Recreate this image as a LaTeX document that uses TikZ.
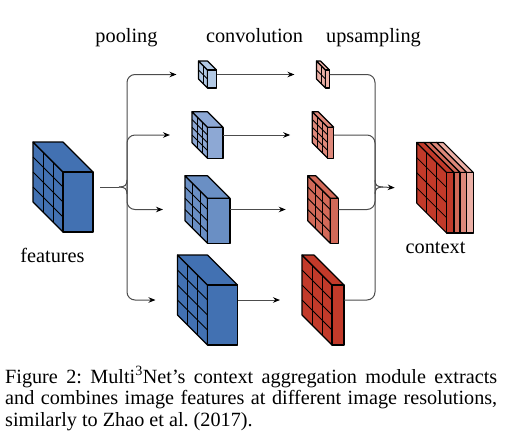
\documentclass[tikz,border=0pt]{standalone}
\usepackage{fontspec}
\setmainfont{Liberation Serif}
\usetikzlibrary{arrows.meta, positioning}
\definecolor{blueA}{RGB}{66, 113, 178}
\definecolor{blueB}{RGB}{106, 143, 196}
\definecolor{blueC}{RGB}{141, 168, 212}
\definecolor{blueD}{RGB}{178, 201, 228}
\definecolor{redA}{RGB}{194, 58, 42}
\definecolor{redB}{RGB}{210, 105, 88}
\definecolor{redC}{RGB}{222, 136, 122}
\definecolor{redD}{RGB}{236, 176, 166}
\newcommand{\capfont}{\fontsize{20.2}{21.7}\selectfont\frenchspacing}
\newcommand{\labfont}{\fontsize{20.3}{24}\selectfont}
% #1 name, #2 #3 front top-left corner, #4 width, #5 height, #6 depth, #7 colour, #8 columns, #9 rows
\newcommand{\gridcube}[9]{%
    \filldraw[cubeedge, fill=#7] (#2,#3) -- ++(0,#5) -- ++(-#6,-#6) -- ++(0,-#5) -- cycle;
    \filldraw[cubeedge, fill=#7] (#2,#3) -- ++(#4,0) -- ++(-#6,-#6) -- ++(-#4,0) -- cycle;
    \filldraw[cubeedge, fill=#7] (#2,#3) rectangle ++(#4,#5);
    \ifnum#8>1
        \foreach \k in {2,...,#8} {\draw[cellline] ({#2-(\k-1)*#6/#8},{#3-(\k-1)*#6/#8}) -- ++(0,#5);}
    \fi
    \ifnum#9>1
        \foreach \k in {2,...,#9} {\draw[cellline] ({#2},{#3+(\k-1)*#5/#9}) -- ++(-#6,-#6);}
    \fi
    \node[cubebox, minimum width={(#4+#6)*1pt}, minimum height={(#5+#6)*1pt}] (#1) at ({#2+(#4-#6)/2},{#3+(#5-#6)/2}) {};
}

\begin{document}
\begin{tikzpicture}[x=1pt, y=-1pt,
        cubeedge/.style={draw=black, line width=1.1pt, line join=round},
        cellline/.style={draw=black, line width=0.8pt},
        cubebox/.style={rectangle, inner sep=0, outer sep=0},
        conn/.style={draw=black!70, line width=1pt},
        arr/.style={conn, -{Stealth[length=7pt, width=5.5pt, black]}},
        lab/.style={anchor=base, inner sep=0, font=\labfont}
    ]
        \useasboundingbox (0,0) rectangle (508,437);

        % input features
        \gridcube{feat}{63}{172}{30}{60}{30}{blueA}{3}{4}

        % pooled maps
        \gridcube{pa}{207.5}{70}{9}{18}{9}{blueD}{2}{2}
        \gridcube{pb}{207.5}{127.25}{15.5}{31}{15.5}{blueC}{3}{4}
        \gridcube{pc}{207.5}{198.25}{22.5}{45}{22.5}{blueB}{3}{4}
        \gridcube{pd}{207.5}{285}{30}{60}{30}{blueA}{3}{4}

        % upsampled maps
        \gridcube{ua}{325.5}{70}{4}{18}{9}{redD}{2}{2}
        \gridcube{ub}{327.75}{127.25}{6}{31}{15.5}{redC}{3}{4}
        \gridcube{uc}{330.25}{198.25}{8}{45}{22.5}{redB}{3}{4}
        \gridcube{ud}{332}{285}{12}{60}{30}{redA}{3}{4}

        % context stack
        \gridcube{ctxd}{466.7}{172.5}{6.6}{60.5}{30}{redD}{1}{1}
        \gridcube{ctxc}{460}{172.5}{6.7}{60.5}{30}{redC}{1}{1}
        \gridcube{ctxb}{454}{172.5}{6}{60.5}{30}{redB}{1}{1}
        \gridcube{ctx}{446.7}{172.5}{7.3}{60.5}{30}{redA}{3}{4}

        \coordinate (ltip) at (119,187);
        \coordinate (ljoin) at (127,187);
        \coordinate (rjoin) at (375,187);
        \coordinate (rtip) at (383,187);

        % split
        \draw[conn] ([xshift=7pt]feat.east) -- (ltip);
        \draw[conn] (ltip) .. controls (125,187) and (127,185) .. (127,180);
        \draw[conn] (ltip) .. controls (125,187) and (127,189) .. (127,194);
        \draw[arr, rounded corners=8pt] (ljoin) |- ([xshift=-22pt]pa.west);
        \draw[arr, rounded corners=8pt] (ljoin) |- ([xshift=-22pt]pb.west);
        \draw[arr, rounded corners=8pt] (ljoin) |- ([xshift=-22pt]pc.west);
        \draw[arr, rounded corners=8pt] (ljoin) |- ([xshift=-22pt]pd.west);

        % convolution
        \draw[arr] (pa.east) -- ([xshift=-22pt]ua.west);
        \draw[arr] (pb.east) -- ([xshift=-22pt]ub.west);
        \draw[arr] (pc.east) -- ([xshift=-22pt]uc.west);
        \draw[arr] (pd.east) -- ([xshift=-22pt]ud.west);

        % merge
        \draw[conn, rounded corners=8pt] (ua.east) -| (rjoin);
        \draw[conn, rounded corners=8pt] (ub.east) -| (rjoin);
        \draw[conn, rounded corners=8pt] (uc.east) -| (rjoin);
        \draw[conn, rounded corners=8pt] (ud.east) -| (rjoin);
        \draw[conn] (375,180) .. controls (375,185) and (377,187) .. (rtip);
        \draw[conn] (375,194) .. controls (375,189) and (377,187) .. (rtip);
        \draw[arr] (rtip) -- ([xshift=-22pt]ctx.west);

        \node[lab] (pooltxt) at (126.5,42) {pooling};
        \node[lab] (convtxt) at (254.5,42) {convolution};
        \node[lab] (upstxt) at (373.5,42) {upsampling};
        \node[lab] (feattxt) at (52.5,262) {features};
        \node[lab] (ctxtxt) at (435.5,253) {context};

        \node[anchor=base west, inner sep=0, text width=492pt, align=justify, font=\capfont] (caption) at (5,383)
            {Figure 2: Multi\textsuperscript{3}Net's context aggregation module extracts\linebreak
             and combines image features at different image resolutions,\linebreak
             similarly to Zhao et al. (2017).};
    \end{tikzpicture}
\end{document}
